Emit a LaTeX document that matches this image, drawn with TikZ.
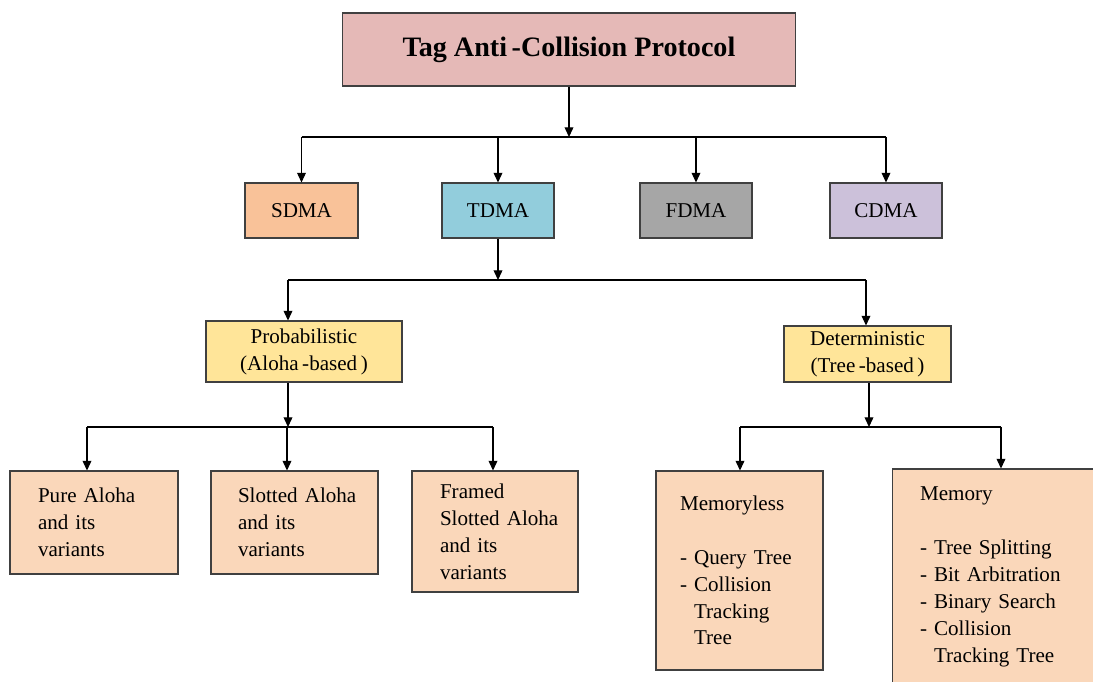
\documentclass[tikz,border=0pt]{standalone}
\usepackage{fontspec}
\setmainfont{Liberation Serif}
\usetikzlibrary{arrows.meta}
\definecolor{rootpink}{RGB}{229,185,183}
\definecolor{sdmaorange}{RGB}{249,194,153}
\definecolor{tdmablue}{RGB}{146,205,220}
\definecolor{fdmagray}{RGB}{166,166,166}
\definecolor{cdmalilac}{RGB}{204,193,218}
\definecolor{classyellow}{RGB}{255,229,153}
\definecolor{leafpeach}{RGB}{250,215,186}
\begin{document}
\begin{tikzpicture}[x=0.02cm, y=-0.02cm,
  box/.style={draw=black!75, line width=0.6pt, inner sep=0pt, align=center,
    font=\fontsize{12}{15.3}\selectfont},
  leaf/.style={box, fill=leafpeach, align=left, inner sep=0pt,
    execute at begin node={\leftskip=#1\relax}},
  link/.style={line width=0.6pt, -{Triangle[length=5.5pt,width=5pt]}},
  bus/.style={line width=0.6pt}]
  \useasboundingbox (0,0) rectangle (1093,682);
  % top level
  \node[box, fill=rootpink, minimum width=9.08cm, minimum height=1.46cm,
    font=\fontsize{16}{19}\selectfont\bfseries] (root) at (569,49.5) {Tag Anti\,-Collision Protocol};
  % access methods
  \node[box, fill=sdmaorange, minimum width=2.26cm, minimum height=1.1cm] (sdma) at (301.5,210.5) {SDMA};
  \node[box, fill=tdmablue, minimum width=2.24cm, minimum height=1.1cm] (tdma) at (498,210.5) {TDMA};
  \node[box, fill=fdmagray, minimum width=2.24cm, minimum height=1.1cm] (fdma) at (696,210.5) {FDMA};
  \node[box, fill=cdmalilac, minimum width=2.24cm, minimum height=1.1cm] (cdma) at (886,210.5) {CDMA};
  % TDMA classes
  \node[box, fill=classyellow, minimum width=3.92cm, minimum height=1.22cm] (prob) at (304,351.5) {Probabilistic\\(Aloha\,-based\,)};
  \node[box, fill=classyellow, minimum width=3.34cm, minimum height=1.12cm] (det) at (867.5,354) {Deterministic\\(Tree\,-based\,)};
  % aloha family
  \node[leaf=0.56cm, text width=3.36cm, minimum height=2.06cm] (pure) at (94,522.5) {Pure Aloha\\and its\\variants};
  \node[leaf=0.54cm, text width=3.34cm, minimum height=2.06cm] (slotted) at (294.5,522.5) {Slotted Aloha\\and its\\variants};
  \node[leaf=0.56cm, text width=3.32cm, minimum height=2.42cm] (framed) at (495,531.5) {Framed\\Slotted Aloha\\and its\\variants};
  % tree family
  \node[leaf=0.48cm, text width=3.34cm, minimum height=3.98cm] (memless) at (739.5,570.5)
    {Memoryless\\[15.3pt]- Query Tree\\- Collision\\\hphantom{-~}Tracking\\\hphantom{-~}Tree};
  \node[leaf=0.56cm, text width=4.2cm, minimum height=4.32cm] (memory) at (997,577)
    {Memory\\[15.3pt]- Tree Splitting\\- Bit Arbitration\\- Binary Search\\- Collision\\\hphantom{-~}Tracking Tree};
  % connectors
  \coordinate (busA) at (569,137);
  \draw[link] (root) -- (busA);
  \draw[bus] (busA -| sdma) -- (busA -| cdma);
  \foreach \n in {sdma,tdma,fdma,cdma}
    \draw[link] (busA -| \n) -- (\n);
  \coordinate (busB) at (498,280);
  \coordinate (probIn) at (288,280);
  \coordinate (detIn) at (866,280);
  \draw[link] (tdma) -- (busB);
  \draw[bus] (probIn) -- (detIn);
  \draw[link] (probIn) -- (probIn |- prob.north);
  \draw[link] (detIn) -- (detIn |- det.north);
  \coordinate (busC) at (288,427);
  \coordinate (pureIn) at (87,427);
  \coordinate (slottedIn) at (287,427);
  \coordinate (framedIn) at (493,427);
  \draw[link] (busC |- prob.south) -- (busC);
  \draw[bus] (pureIn) -- (framedIn);
  \draw[link] (pureIn) -- (pureIn |- pure.north);
  \draw[link] (slottedIn) -- (slottedIn |- slotted.north);
  \draw[link] (framedIn) -- (framedIn |- framed.north);
  \coordinate (busD) at (869,427);
  \coordinate (memlessIn) at (740,427);
  \coordinate (memoryIn) at (1001,427);
  \draw[link] (busD |- det.south) -- (busD);
  \draw[bus] (memlessIn) -- (memoryIn);
  \draw[link] (memlessIn) -- (memlessIn |- memless.north);
  \draw[link] (memoryIn) -- (memoryIn |- memory.north);
\end{tikzpicture}
\end{document}
